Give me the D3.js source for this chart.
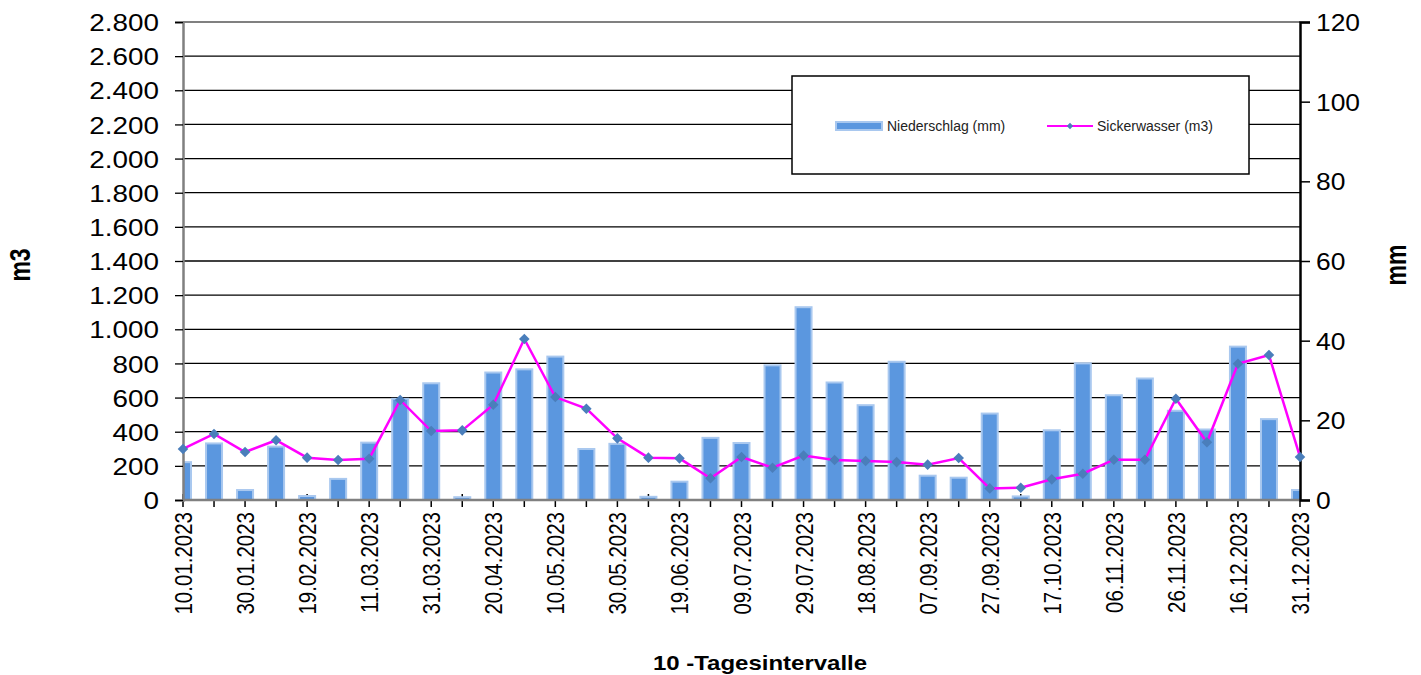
<!DOCTYPE html>
<html>
<head>
<meta charset="utf-8">
<script src="https://cdn.jsdelivr.net/npm/d3@7"></script>
<style>
  body { margin: 0; background: #fff; }
  text { font-family: "Liberation Sans", Arial, sans-serif; fill: #000; }
</style>
</head>
<body>
<div id="chart"></div>
<script>
// 10-Tages-Intervalle 2023
var dates = ["10.01.2023", "20.01.2023", "30.01.2023", "09.02.2023", "19.02.2023", "01.03.2023",
    "11.03.2023", "21.03.2023", "31.03.2023", "10.04.2023", "20.04.2023", "30.04.2023",
    "10.05.2023", "20.05.2023", "30.05.2023", "09.06.2023", "19.06.2023", "29.06.2023",
    "09.07.2023", "19.07.2023", "29.07.2023", "08.08.2023", "18.08.2023", "28.08.2023",
    "07.09.2023", "17.09.2023", "27.09.2023", "07.10.2023", "17.10.2023", "27.10.2023",
    "06.11.2023", "16.11.2023", "26.11.2023", "06.12.2023", "16.12.2023", "26.12.2023",
    "31.12.2023"];

// Niederschlag (mm) - Balken, rechte Achse
var niederschlag = [9.5, 14.2, 2.5, 13.4, 1.0, 5.3, 14.4, 25.4, 29.3, 0.7, 32.0, 32.8,
    36.0, 12.8, 14.1, 0.8, 4.6, 15.6, 14.3, 33.8, 48.4, 29.5, 23.8, 34.7,
    6.1, 5.6, 21.7, 0.9, 17.5, 34.3, 26.3, 30.5, 22.4, 17.7, 38.5, 20.3, 2.5];

// Sickerwasser (m3) - Linie, linke Achse
var sickerwasser = [299, 387, 281, 350, 248, 234, 242, 586, 404, 408, 558, 943,
    603, 535, 361, 248, 244, 127, 252, 189, 260, 234, 228, 222,
    207, 246, 68, 72, 121, 154, 236, 236, 593, 338, 798, 849, 252];

var leftTicks = [0, 200, 400, 600, 800, 1000, 1200, 1400, 1600, 1800, 2000, 2200, 2400, 2600, 2800];
var rightTicks = [0, 20, 40, 60, 80, 100, 120];

var width = 1421;
var height = 675;
var pLeft = 183, pRight = 1300, pTop = 22, pBottom = 500;

var svg = d3.select('#chart')
    .append('svg')
    .attr('width', width)
    .attr('height', height);

//Escalas
var xscale = d3.scalePoint()
    .domain(dates)
    .range([pLeft, pRight]);

var yleft = d3.scaleLinear()
    .domain([0, 2800])
    .range([pBottom, pTop]);

var yright = d3.scaleLinear()
    .domain([0, 120])
    .range([pBottom, pTop]);

var fmt = function(v) { return d3.format(",")(v).replace(/,/g, "."); };

// gridlines
svg.append("g")
    .selectAll("line")
    .data(leftTicks.slice(1, -1))
    .enter()
    .append("line")
    .attr("x1", pLeft)
    .attr("x2", pRight)
    .attr("y1", d => yleft(d))
    .attr("y2", d => yleft(d))
    .attr("stroke", "#000")
    .attr("stroke-width", 1.3);

// oberer Rand
svg.append("line")
    .attr("x1", pLeft).attr("x2", pRight)
    .attr("y1", pTop).attr("y2", pTop)
    .attr("stroke", "#808080")
    .attr("stroke-width", 2);

// x ticks (cross)
svg.append("g")
    .selectAll("line")
    .data(dates)
    .enter()
    .append("line")
    .attr("x1", d => xscale(d))
    .attr("x2", d => xscale(d))
    .attr("y1", pBottom - 6)
    .attr("y2", pBottom + 7)
    .attr("stroke", "#000")
    .attr("stroke-width", 1.5);

// bars
svg.append("clipPath")
    .attr("id", "plotclip")
    .append("rect")
    .attr("x", pLeft)
    .attr("y", pTop)
    .attr("width", pRight - pLeft)
    .attr("height", pBottom - pTop);

var barW = 16;
svg.append("g")
    .attr("clip-path", "url(#plotclip)")
    .selectAll("rect")
    .data(niederschlag)
    .enter()
    .append("rect")
    .attr("x", (d, i) => xscale(dates[i]) - barW / 2)
    .attr("y", d => yright(d))
    .attr("width", barW)
    .attr("height", d => pBottom - yright(d))
    .attr("fill", "#5b97df")
    .attr("stroke", "#a9c8ef")
    .attr("stroke-width", 2);

// bottom axis line
svg.append("line")
    .attr("x1", pLeft).attr("x2", pRight)
    .attr("y1", pBottom).attr("y2", pBottom)
    .attr("stroke", "#808080")
    .attr("stroke-width", 2.5);

// left axis
var yaxisL = d3.axisLeft(yleft).tickValues(leftTicks).tickFormat(fmt).tickSize(8).tickPadding(0);
var gL = svg.append("g")
    .attr("transform", "translate(" + pLeft + ",0)")
    .call(yaxisL);
gL.select(".domain").attr("stroke", "#808080").attr("stroke-width", 2.5);
gL.selectAll(".tick line").attr("stroke", "#000").attr("stroke-width", 1.3);
gL.selectAll(".tick text")
    .attr("x", -24 / 1.16)
    .attr("dy", "0.36em")
    .attr("transform", "scale(1.16,1)")
    .style("font-size", "24px");

// right axis
var yaxisR = d3.axisRight(yright).tickValues(rightTicks).tickSize(10).tickPadding(0);
var gR = svg.append("g")
    .attr("transform", "translate(" + pRight + ",0)")
    .call(yaxisR);
gR.select(".domain").attr("stroke", "#000").attr("stroke-width", 2.5);
gR.selectAll(".tick line").attr("stroke", "#000").attr("stroke-width", 1.5);
gR.selectAll(".tick text")
    .attr("x", 16 / 1.1)
    .attr("dy", "0.36em")
    .attr("transform", "scale(1.1,1)")
    .style("font-size", "24px");

// line
var line = d3.line()
    .x((d, i) => xscale(dates[i]))
    .y(d => yleft(d));

svg.append("path")
    .datum(sickerwasser)
    .attr("d", line)
    .attr("fill", "none")
    .attr("stroke", "#ff00ff")
    .attr("stroke-width", 2.5);

var diamond = d3.symbol().type(d3.symbolSquare).size(56);
svg.append("g")
    .selectAll("path")
    .data(sickerwasser)
    .enter()
    .append("path")
    .attr("d", diamond)
    .attr("transform", (d, i) => "translate(" + xscale(dates[i]) + "," + yleft(d) + ") rotate(45)")
    .attr("fill", "#4a7ebb");

// x labels (every second)
svg.append("g")
    .selectAll("text")
    .data(dates.filter((d, i) => i % 2 == 0))
    .enter()
    .append("text")
    .attr("transform", d => "translate(" + (xscale(d) + 9) + "," + 512 + ") rotate(-90) scale(1,1.18)")
    .style("text-anchor", "end")
    .style("font-size", "20.5px")
    .text(d => d);

// axis titles
svg.append("text")
    .attr("transform", "translate(30,265) rotate(-90) scale(1,1.3)")
    .style("text-anchor", "middle")
    .style("font-weight", "bold")
    .style("font-size", "23px")
    .text("m3");

svg.append("text")
    .attr("transform", "translate(1406,265) rotate(-90) scale(1,1.3)")
    .style("text-anchor", "middle")
    .style("font-weight", "bold")
    .style("font-size", "23px")
    .text("mm");

svg.append("text")
    .attr("transform", "translate(760,670) scale(1.2,1)")
    .style("text-anchor", "middle")
    .style("font-weight", "bold")
    .style("font-size", "20px")
    .text("10 -Tagesintervalle");

// legend
var legend = svg.append("g");
legend.append("rect")
    .attr("x", 792).attr("y", 76)
    .attr("width", 457).attr("height", 98)
    .attr("fill", "#fff")
    .attr("stroke", "#000")
    .attr("stroke-width", 1.5);
legend.append("rect")
    .attr("x", 836).attr("y", 122)
    .attr("width", 46).attr("height", 8)
    .attr("fill", "#5b97df")
    .attr("stroke", "#a9c8ef")
    .attr("stroke-width", 2);
legend.append("text")
    .attr("x", 887).attr("y", 131)
    .style("font-size", "14px")
    .style("fill", "#222")
    .text("Niederschlag (mm)");
legend.append("line")
    .attr("x1", 1047).attr("x2", 1093)
    .attr("y1", 126).attr("y2", 126)
    .attr("stroke", "#ff00ff")
    .attr("stroke-width", 2);
legend.append("path")
    .attr("d", d3.symbol().type(d3.symbolSquare).size(20))
    .attr("transform", "translate(1070,126) rotate(45)")
    .attr("fill", "#4a7ebb");
legend.append("text")
    .attr("x", 1097).attr("y", 131)
    .style("font-size", "14px")
    .style("fill", "#222")
    .text("Sickerwasser (m3)");
</script>
</body>
</html>
